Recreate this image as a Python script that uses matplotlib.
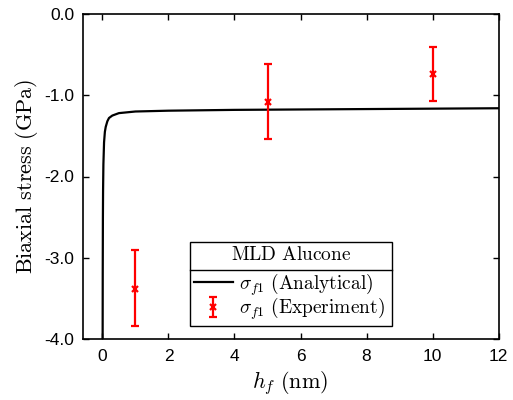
import matplotlib
matplotlib.use('Agg')
import matplotlib.pyplot as plt
from matplotlib.lines import Line2D

plt.rcParams['mathtext.fontset'] = 'cm'
plt.rcParams['font.family'] = 'Liberation Sans'
plt.rcParams['axes.unicode_minus'] = False

# analytical curve
h_model = [0.007, 0.01, 0.015, 0.02, 0.03, 0.05, 0.075, 0.1, 0.15, 0.2, 0.3,
           0.5, 0.75, 1, 1.5, 2, 3, 4, 6, 8, 10, 12]
s_model = [-4.0, -3.2, -2.51, -2.18, -1.85, -1.58, -1.45, -1.39, -1.32, -1.28,
           -1.25, -1.22, -1.21, -1.20, -1.195, -1.19, -1.185, -1.18, -1.175,
           -1.17, -1.165, -1.16]

# experiment points
h_exp = [1, 5, 10]
s_exp = [-3.38, -1.08, -0.74]
s_lo = [0.46, 0.46, 0.33]
s_hi = [0.47, 0.46, 0.33]

xticks = [0, 2, 4, 6, 8, 10, 12]
yticks = [0, -1, -2, -3, -4]
ytick_labels = ['0.0', '-1.0', '-2.0', '-3.0', '-4.0']

fig = plt.figure(figsize=(5.13, 4.0), dpi=100)
ax = fig.add_axes([0.161, 0.1525, 0.811, 0.8125])

ax.plot(h_model, s_model, color='black', lw=1.6,
        label=r'$\sigma_{f1}\ \mathrm{(Analytical)}$')
ax.errorbar(h_exp, s_exp, yerr=[s_lo, s_hi], fmt='x', color='red', ms=4,
            mew=1.6, elinewidth=1.6, capsize=3, capthick=1.6,
            label=r'$\sigma_{f1}\ \mathrm{(Experiment)}$')

ax.set_xlim(-0.6, 12)
ax.set_ylim(-4, 0)
ax.set_xticks(xticks)
ax.set_yticks(yticks)
ax.set_yticklabels(ytick_labels)
ax.tick_params(direction='in', top=True, right=True, labelsize=12.5,
               length=4, width=1)
ax.tick_params(axis='x', pad=7)
ax.tick_params(axis='y', pad=6)
for sp in ax.spines.values():
    sp.set_linewidth(1.2)

ax.set_xlabel(r'$h_f\ \mathrm{(nm)}$', fontsize=16, labelpad=4)
ax.set_ylabel(r'$\mathrm{Biaxial\ stress\ (GPa)}$', fontsize=16, labelpad=3)

leg = ax.legend(loc='lower left', bbox_to_anchor=(0.258, 0.04, 0.486, 0.255),
                mode='expand', title=r'$\mathrm{MLD\ Alucone}$',
                fontsize=14, title_fontsize=14, fancybox=False,
                edgecolor='black', framealpha=1, borderaxespad=0,
                handlelength=2.0, handletextpad=0.3, labelspacing=-0.1,
                borderpad=0.2)
leg.get_frame().set_linewidth(1)
leg._legend_box.sep = 5  # room for the divider under the title

# divider under the legend title, just above the first entry
fig.canvas.draw()
r = fig.canvas.get_renderer()
eb = leg.get_texts()[0].get_window_extent(r)
fb = leg.get_frame().get_window_extent(r)
ydiv = eb.y1 + 1
inv = fig.transFigure.inverted()
x0, y0 = inv.transform((fb.x0, ydiv))
x1, _ = inv.transform((fb.x1, ydiv))
fig.add_artist(Line2D([x0, x1], [y0, y0], color='black', lw=1, zorder=10))

fig.savefig('out.png', dpi=100)
